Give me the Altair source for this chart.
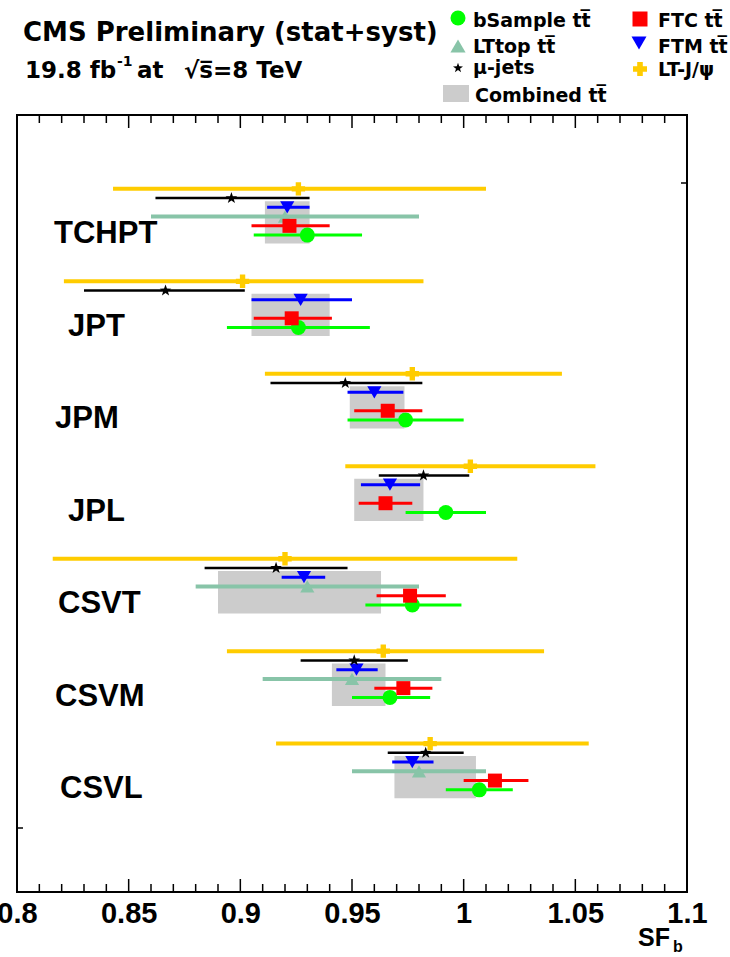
import altair as alt
import pandas as pd

# ---------------------------------------------------------------
# b-tag scale factors SF_b for seven taggers, several methods
# ---------------------------------------------------------------
taggers = ["TCHPT", "JPT", "JPM", "JPL", "CSVT", "CSVM", "CSVL"]

# Combined ttbar result (grey band: low and high edge)
comb_lo = [0.911, 0.905, 0.949, 0.951, 0.890, 0.941, 0.969]
comb_hi = [0.931, 0.940, 0.9735, 0.982, 0.963, 0.965, 1.0055]

# LT-J/psi
ljpsi_val = [0.926, 0.901, 0.977, 1.003, 0.920, 0.964, 0.985]
ljpsi_lo = [0.843, 0.821, 0.911, 0.947, 0.816, 0.894, 0.916]
ljpsi_hi = [1.010, 0.982, 1.044, 1.059, 1.024, 1.036, 1.056]

# mu-jets
mujets_val = [0.896, 0.8665, 0.947, 0.982, 0.916, 0.951, 0.983]
mujets_lo = [0.862, 0.830, 0.9135, 0.962, 0.884, 0.927, 0.966]
mujets_hi = [0.931, 0.902, 0.9815, 1.0025, 0.948, 0.975, 1.000]

# FTM ttbar
ftm_val = [0.921, 0.927, 0.960, 0.967, 0.9285, 0.952, 0.977]
ftm_lo = [0.912, 0.905, 0.948, 0.954, 0.9185, 0.943, 0.968]
ftm_hi = [0.931, 0.950, 0.973, 0.9805, 0.938, 0.9615, 0.9865]

# LTtop ttbar (not available for the JP taggers)
lttop_val = [0.920, None, None, None, 0.930, 0.950, 0.980]
lttop_lo = [0.860, None, None, None, 0.880, 0.910, 0.950]
lttop_hi = [0.980, None, None, None, 0.980, 0.990, 1.010]

# FTC ttbar
ftc_val = [0.922, 0.923, 0.966, 0.965, 0.976, 0.973, 1.014]
ftc_lo = [0.905, 0.906, 0.951, 0.953, 0.961, 0.960, 1.000]
ftc_hi = [0.940, 0.941, 0.9815, 0.977, 0.992, 0.986, 1.029]

# bSample ttbar
bsample_val = [0.930, 0.926, 0.974, 0.992, 0.977, 0.967, 1.007]
bsample_lo = [0.906, 0.894, 0.948, 0.974, 0.956, 0.950, 0.992]
bsample_hi = [0.9545, 0.958, 1.000, 1.010, 0.999, 0.985, 1.022]

x_major = [0.8, 0.85, 0.9, 0.95, 1.0, 1.05, 1.1]
x_minor = [0.81, 0.82, 0.83, 0.84, 0.86, 0.87, 0.88, 0.89, 0.91, 0.92, 0.93,
           0.94, 0.96, 0.97, 0.98, 0.99, 1.01, 1.02, 1.03, 1.04, 1.06, 1.07,
           1.08, 1.09]

# ---------------------------------------------------------------
# layout / style
# ---------------------------------------------------------------
OX, OY = 17, 115          # plot-area origin on the page
W, H = 670, 777           # plot-area size
TT = "t" + "t\u0305"      # t tbar

STAR = ("M0,-1L0.235,-0.324L0.951,-0.309L0.38,0.124L0.588,0.809L0,0.4"
        "L-0.588,0.809L-0.38,0.124L-0.951,-0.309L-0.235,-0.324Z")

YELLOW, BLACK, BLUE = "#ffcc00", "#000000", "#0000ff"
TEAL, RED, GREEN, GREY = "#88c4a8", "#ff0000", "#00ff00", "#cccccc"

# method: values, row inside a tagger block, colour, marker, marker size, line width
methods = [
    ("LT-J/psi", ljpsi_val, ljpsi_lo, ljpsi_hi, 0, YELLOW, "cross", 180, 4),
    ("LTtop", lttop_val, lttop_lo, lttop_hi, 3, TEAL, "triangle-up", 200, 4),
    ("bSample", bsample_val, bsample_lo, bsample_hi, 5, GREEN, "circle", 225, 3),
    ("FTC", ftc_val, ftc_lo, ftc_hi, 4, RED, "square", 196, 3),
    ("FTM", ftm_val, ftm_lo, ftm_hi, 2, BLUE, "triangle-down", 200, 3),
    ("mu-jets", mujets_val, mujets_lo, mujets_hi, 1, BLACK, STAR, 150, 2.5),
]
ROW = 0.1
BOX_TOP, BOX_BOT = 0.134, 0.592
LABEL_BASE = 0.59
label_left_px = [54, 68, 55, 68, 58, 55, 60]

xs = alt.Scale(domain=[0.8, 1.1], nice=False, zero=False)
ys = alt.Scale(domain=[-0.799, 7.605], reverse=True, nice=False, zero=False)
X_AXIS = alt.Axis(values=x_major, format="~g", ticks=False, domain=False,
                  grid=False, labelFont="Liberation Sans", labelFontWeight="bold",
                  labelFontSize=29, labelColor="black", labelPadding=7,
                  labelFlush=False, labelOverlap=False, title=None)


def X(field):
    return alt.X(field, scale=xs, axis=X_AXIS, title=None)


def Y(field):
    return alt.Y(field, scale=ys, axis=None, title=None)


def px_to_x(p):
    return 0.8 + (p - OX) * 0.3 / W


one = pd.DataFrame({"k": [0]})

# ---------------------------------------------------------------
# combined grey boxes
# ---------------------------------------------------------------
box_df = pd.DataFrame({
    "tagger": taggers,
    "lo": comb_lo,
    "hi": comb_hi,
    "y0": [i + BOX_TOP for i in range(len(taggers))],
    "y1": [i + BOX_BOT for i in range(len(taggers))],
})
layers = [
    alt.Chart(box_df).mark_rect(color=GREY).encode(
        x=X("lo:Q"), x2="hi:Q", y=Y("y0:Q"), y2="y1:Q")
]

# ---------------------------------------------------------------
# measurements: error bar + marker per method
# ---------------------------------------------------------------
for name, val, lo, hi, row, color, shape, size, lw in methods:
    recs = []
    for i, t in enumerate(taggers):
        if val[i] is None:
            continue
        recs.append({"tagger": t, "method": name, "val": val[i], "lo": lo[i],
                     "hi": hi[i], "ypos": i + row * ROW})
    d = pd.DataFrame(recs)
    layers.append(alt.Chart(d).mark_rule(color=color, strokeWidth=lw).encode(
        x=X("lo:Q"), x2="hi:Q", y=Y("ypos:Q")))
    layers.append(alt.Chart(d).mark_point(shape=shape, size=size, filled=True,
                                          color=color, opacity=1).encode(
        x=X("val:Q"), y=Y("ypos:Q")))

# tagger names
lab_df = pd.DataFrame({
    "tagger": taggers,
    "lx": [px_to_x(p) for p in label_left_px],
    "ly": [i + LABEL_BASE for i in range(len(taggers))],
})
layers.append(alt.Chart(lab_df).mark_text(
    align="left", baseline="alphabetic", font="Liberation Sans",
    fontWeight="bold", fontSize=31, color="black").encode(
    x=X("lx:Q"), y=Y("ly:Q"), text="tagger:N"))

# frame ticks (pointing inwards, top and bottom)
maj_df = pd.DataFrame({"t": x_major})
min_df = pd.DataFrame({"t": x_minor})
for d, ln in ((maj_df, 13), (min_df, 8)):
    layers.append(alt.Chart(d).mark_rule(color="black", strokeWidth=1.5).encode(
        x=X("t:Q"), y=alt.value(0), y2=alt.value(ln)))
    layers.append(alt.Chart(d).mark_rule(color="black", strokeWidth=1.5).encode(
        x=X("t:Q"), y=alt.value(H - ln), y2=alt.value(H)))

# small y ticks on the frame sides
layers.append(alt.Chart(one).mark_rule(color="black", strokeWidth=1.5).encode(
    x=alt.value(0), x2=alt.value(6), y=alt.value(828 - OY)))
layers.append(alt.Chart(one).mark_rule(color="black", strokeWidth=1.5).encode(
    x=alt.value(W - 6), x2=alt.value(W), y=alt.value(183 - OY)))


def text(s, x, y, size, font="DejaVu Sans", align="left"):
    return alt.Chart(one).mark_text(
        text=s, align=align, baseline="alphabetic", font=font,
        fontWeight="bold", fontSize=size, color="black").encode(
        x=alt.value(x - OX), y=alt.value(y - OY))


def symbol(shape, x, y, size, color):
    return alt.Chart(one).mark_point(shape=shape, size=size, filled=True,
                                     color=color, opacity=1).encode(
        x=alt.value(x - OX), y=alt.value(y - OY))


# header
layers += [
    text("CMS Preliminary (stat+syst)", 23, 41, 26),
    text("19.8 fb", 25, 78, 23),
    text("-1", 117, 66, 14),
    text("at", 137, 78, 23),
    text("\u221as\u0305=8 TeV", 184, 78, 23),
]

# legend
layers += [
    symbol("circle", 458, 18, 225, GREEN),
    text("bSample " + TT, 473, 27, 19),
    symbol("triangle-up", 458, 46, 230, TEAL),
    text("LTtop " + TT, 473, 53, 19),
    symbol(STAR, 458, 68, 110, BLACK),
    text("\u03bc-jets", 473, 74, 19),
    alt.Chart(one).mark_rect(color=GREY).encode(
        x=alt.value(443 - OX), x2=alt.value(469 - OX),
        y=alt.value(85 - OY), y2=alt.value(102 - OY)),
    text("Combined  " + TT, 475, 102, 19),
    symbol("square", 640, 19, 225, RED),
    text("FTC " + TT, 658, 27, 19),
    symbol("triangle-down", 639, 43, 225, BLUE),
    text("FTM " + TT, 658, 53, 19),
    symbol("cross", 640, 69, 196, YELLOW),
    text("LT-J/\u03c8", 658, 76, 19),
]

# x-axis title SF_b
layers += [
    text("SF", 638, 946, 25, font="Liberation Sans"),
    text("b", 673, 952, 16, font="Liberation Sans"),
]

chart = alt.layer(*layers).properties(
    width=W, height=H,
    autosize=alt.AutoSizeParams(type="none"),
    padding={"left": OX, "top": OY, "right": 730 - OX - W, "bottom": 957 - OY - H},
    background="white",
).configure_view(stroke="black", strokeWidth=2)

chart.save("out.html", embed_options={"renderer": "svg", "actions": False})
